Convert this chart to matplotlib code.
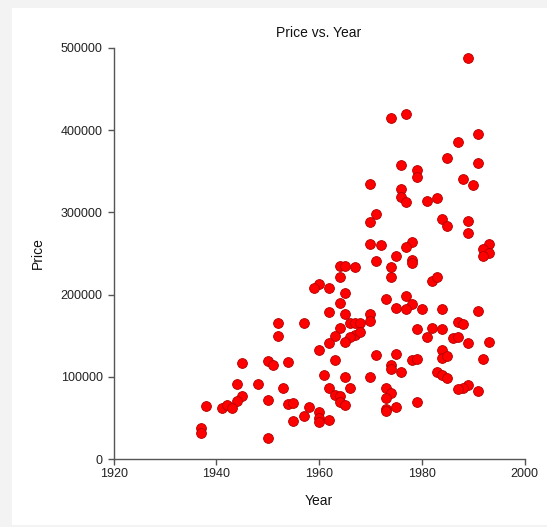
import matplotlib
matplotlib.use('agg')
import matplotlib.pyplot as plt
from matplotlib.patches import Rectangle

plt.rcParams['font.family'] = ['Liberation Sans', 'DejaVu Sans']

# sale year and price of each house
year = [1989, 1974, 1977, 1991, 1987, 1985, 1991, 1976, 1979, 1979,
        1988, 1990, 1970, 1976, 1976, 1977, 1981, 1983, 1971, 1970,
        1984, 1989, 1985, 1989, 1970, 1972, 1978, 1977, 1993, 1992,
        1993, 1992, 1975, 1971, 1978, 1978, 1974, 1974, 1964, 1965,
        1967, 1964, 1960, 1959, 1962, 1982, 1983, 1965, 1973, 1977,
        1964, 1978, 1975, 1977, 1980, 1984, 1991, 1962, 1965, 1970,
        1970, 1952, 1957, 1966, 1967, 1968, 1987, 1988, 1964, 1979,
        1982, 1984, 1952, 1963, 1967, 1966, 1968, 1981, 1986, 1987,
        1965, 1962, 1989, 1993, 1960, 1984, 1971, 1975, 1984, 1985,
        1963, 1978, 1979, 1992, 1945, 1950, 1951, 1954, 1974, 1974,
        1976, 1983, 1984, 1985, 1961, 1965, 1970, 1944, 1948, 1989,
        1988, 1987, 1991, 1953, 1962, 1966, 1973, 1974, 1963, 1964,
        1945, 1973, 1944, 1950, 1964, 1965, 1954, 1955, 1979, 1938,
        1941, 1942, 1943, 1958, 1975, 1973, 1973, 1960, 1957, 1960,
        1960, 1955, 1962, 1937, 1937, 1950]
price = [487000, 414000, 420000, 395000, 386000, 366000, 360000, 358000, 351000, 343000,
         341000, 333000, 335000, 328000, 319000, 312000, 314000, 318000, 298000, 288000,
         292000, 289000, 283000, 275000, 262000, 260000, 264000, 258000, 262000, 255000,
         250000, 247000, 247000, 241000, 242000, 239000, 233000, 222000, 235000, 235000,
         233000, 221000, 213000, 208000, 208000, 217000, 221000, 202000, 195000, 198000,
         190000, 189000, 184000, 183000, 183000, 182000, 180000, 179000, 176000, 176000,
         168000, 166000, 166000, 166000, 165000, 166000, 167000, 164000, 160000, 158000,
         160000, 158000, 150000, 150000, 151000, 148000, 155000, 149000, 147000, 149000,
         142000, 141000, 141000, 143000, 133000, 133000, 127000, 128000, 123000, 125000,
         121000, 121000, 122000, 122000, 117000, 119000, 115000, 118000, 114000, 110000,
         106000, 106000, 102000, 99000, 102000, 100000, 100000, 92000, 92000, 90000,
         87000, 85000, 83000, 87000, 87000, 86000, 86000, 81000, 78000, 77000,
         77000, 75000, 71000, 72000, 69000, 66000, 67000, 68000, 70000, 65000,
         62000, 66000, 62000, 63000, 63000, 61000, 59000, 57000, 53000, 50000,
         45000, 47000, 48000, 38000, 32000, 26000]

fig = plt.figure(figsize=(5.47, 5.27), dpi=100, facecolor='#f3f3f3')
# white panel inside the grey frame
fig.patches.append(Rectangle((12 / 547, 0.004), 1, 1 - 0.004 - 8 / 527,
                             transform=fig.transFigure, facecolor='white',
                             edgecolor='none', zorder=-10))

ax = fig.add_axes([0.2079, 0.1285, 0.7510, 0.7810])
ax.set_facecolor('none')
ax.scatter(year, price, s=50, c='#ff0000', edgecolors='#b00000',
           linewidths=0.6, zorder=3, clip_on=False)

ax.set_xlim(1920, 2000)
ax.set_ylim(0, 500000)
ax.set_xticks([1920, 1940, 1960, 1980, 2000])
ax.set_yticks([0, 100000, 200000, 300000, 400000, 500000])
ax.set_yticklabels(['0', '100000', '200000', '300000', '400000', '500000'])

for side in ['top', 'right']:
    ax.spines[side].set_visible(False)
for side in ['left', 'bottom']:
    ax.spines[side].set_color('#555555')
    ax.spines[side].set_linewidth(1.0)

ax.tick_params(axis='both', direction='out', length=4, width=1,
               color='#555555', labelsize=9, labelcolor='#222222')
ax.tick_params(axis='x', pad=2)
ax.tick_params(axis='y', pad=4)

ax.set_title('Price vs. Year', fontsize=10, color='#111111', pad=8)
ax.set_xlabel('Year', fontsize=10, color='#111111', labelpad=10)
ax.set_ylabel('Price', fontsize=10, color='#111111', labelpad=11)

plt.savefig('out.png', dpi=100, facecolor=fig.get_facecolor())
plt.close()
